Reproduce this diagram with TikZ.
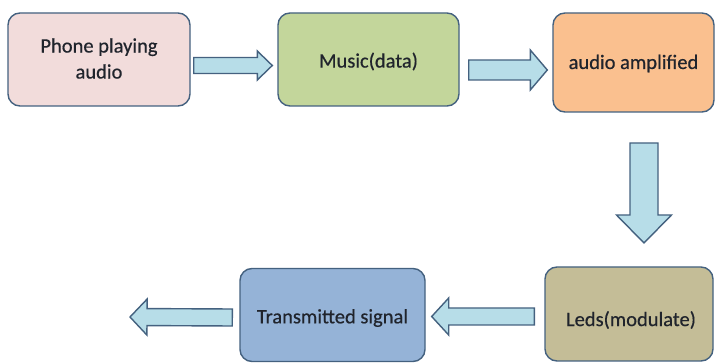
\documentclass[tikz,border=0pt]{standalone}
\usepackage{fontspec}
\setmainfont[FakeBold=0.5]{Carlito}
\usetikzlibrary{calc}

\definecolor{edge}{HTML}{44617F}
\definecolor{txt}{HTML}{20242C}
\definecolor{pinkfill}{HTML}{F2DCDB}
\definecolor{greenfill}{HTML}{C3D69B}
\definecolor{orangefill}{HTML}{FAC08F}
\definecolor{tanfill}{HTML}{C4BD97}
\definecolor{bluefill}{HTML}{95B3D7}
\definecolor{arrowfill}{HTML}{B7DDE8}

\tikzset{
  stage/.style={draw=edge, line width=1.4pt, rounded corners=12pt,
    inner sep=0pt},
  stagetext/.style={text=txt, font=\fontsize{20.5}{26}\selectfont,
    align=center, inner sep=0pt},
  blockarr/.style={draw=edge, fill=arrowfill, line width=1.4pt, line join=miter}
}

% Block arrow from #1 to #2: shaft half-width #3, head half-width #4, head length #5 (pt)
\newcommand\blockarrow[5]{%
  \path let \p1=(#1), \p2=(#2),
    \n1={atan2(\y2-\y1,\x2-\x1)}, \n2={veclen(\x2-\x1,\y2-\y1)} in
    \pgfextra{\xdef\baang{\n1}\xdef\balen{\n2}};
  \begin{scope}[shift={(#1)}, rotate=\baang, x=1pt, y=1pt]
    \draw[blockarr] (0,-#3) -- ({\balen-#5},-#3) -- ({\balen-#5},-#4)
      -- (\balen,0) -- ({\balen-#5},#4) -- ({\balen-#5},#3) -- (0,#3) -- cycle;
  \end{scope}%
}

\begin{document}
\begin{tikzpicture}[x=1pt, y=-1pt]
  \useasboundingbox (0,0) rectangle (716,363);

  % stages, each with its caption placed inside the box
  \node[stage, fill=pinkfill, minimum width=182pt, minimum height=93pt,
    label={[stagetext, yshift=1pt]center:Phone playing\\audio}]
    (phone) at (99,59.5) {};
  \node[stage, fill=greenfill, minimum width=181pt, minimum height=93pt,
    label={[stagetext, yshift=-2pt]center:Music(data)}]
    (music) at (368.5,59.5) {};
  \node[stage, fill=orangefill, minimum width=161pt, minimum height=99pt,
    label={[stagetext, yshift=-1pt]center:audio amplified}]
    (amp) at (633.5,62.5) {};
  \node[stage, fill=tanfill, minimum width=168pt, minimum height=94pt,
    label={[stagetext, xshift=2pt, yshift=-6pt]center:Leds(modulate)}]
    (leds) at (629,314) {};
  \node[stage, fill=bluefill, minimum width=185pt, minimum height=93pt,
    label={[stagetext, yshift=-3pt]center:Transmitted signal}]
    (tx) at (332.5,315) {};

  % arrow end points
  \coordinate (a1s) at ($(phone.east)+(3,6)$);
  \coordinate (a1e) at ($(music.west)+(-5,6)$);
  \coordinate (a2s) at ($(music.east)+(9,10.5)$);
  \coordinate (a2e) at ($(amp.west)+(-5,7.5)$);
  \coordinate (a3s) at (644,143);
  \coordinate (a3e) at (644,243);
  \coordinate (a4s) at ($(leds.west)+(-10,2.5)$);
  \coordinate (a4e) at ($(tx.east)+(6,1.5)$);
  \coordinate (a5s) at ($(tx.west)+(-7,2.5)$);
  \coordinate (a5e) at (130,317);

  \blockarrow{a1s}{a1e}{8}{14.5}{15}
  \blockarrow{a2s}{a2e}{10}{20}{17}
  \blockarrow{a3s}{a3e}{14}{27.5}{28}
  \blockarrow{a4s}{a4e}{8.5}{18.5}{17}
  \blockarrow{a5s}{a5e}{8.5}{18}{17}
\end{tikzpicture}
\end{document}
